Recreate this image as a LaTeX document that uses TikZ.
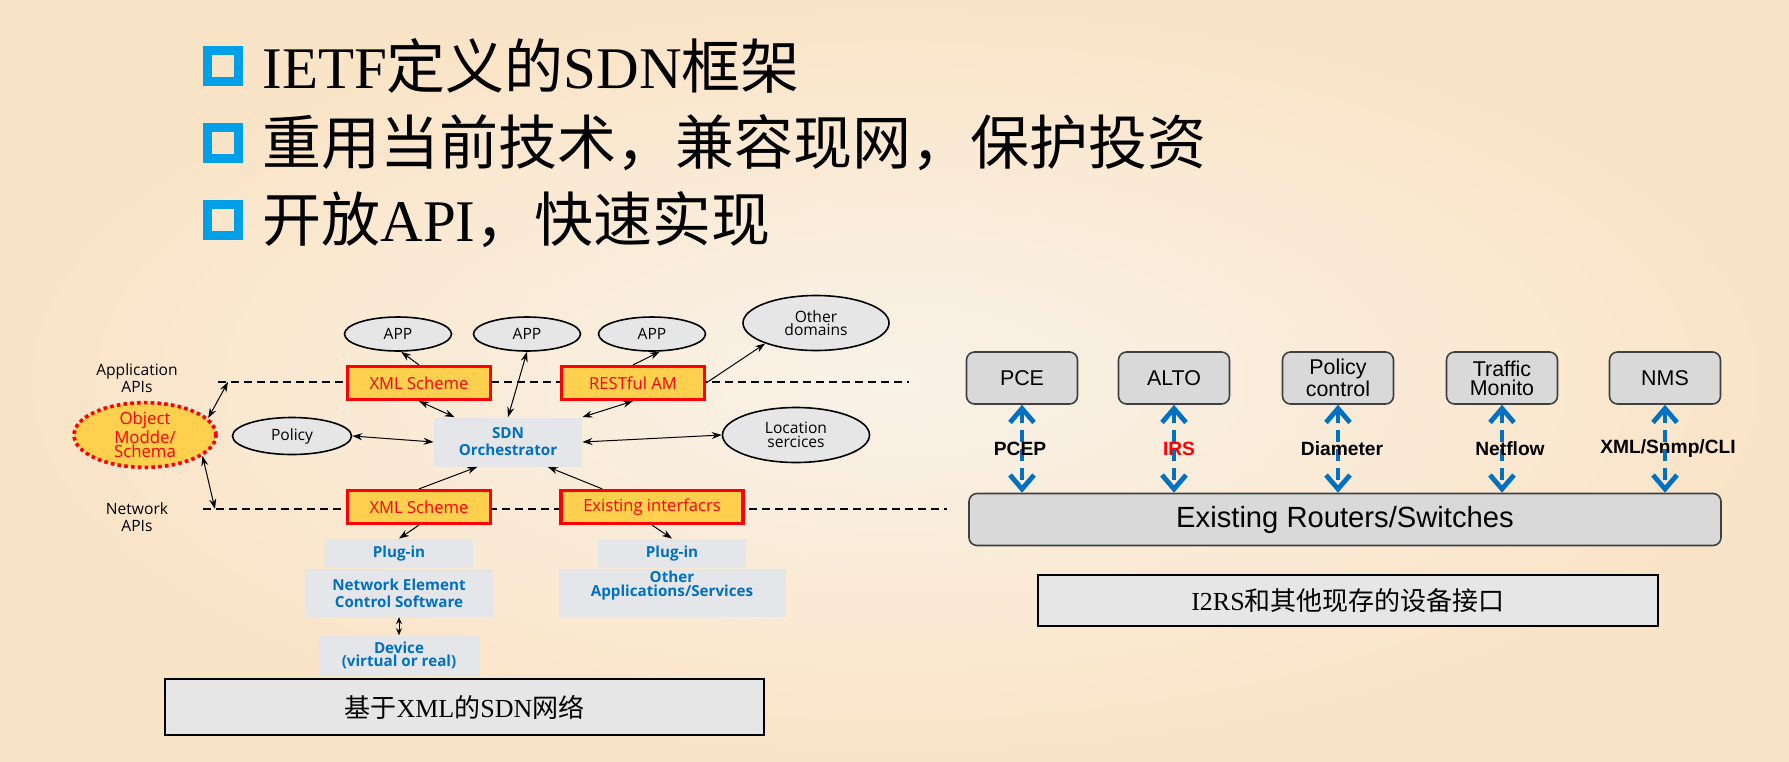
\documentclass[tikz,border=0pt]{standalone}
\usepackage{fontspec}
\setmainfont{Liberation Serif}
\setsansfont{Liberation Sans}
\newfontfamily\cjk{Noto Sans CJK SC}
\newfontfamily\opensans{Open Sans}
\usetikzlibrary{shapes.geometric,arrows.meta,positioning}
\definecolor{bgpeach}{RGB}{250,228,199}
\definecolor{bglight}{RGB}{249,242,232}
\definecolor{bulletblue}{RGB}{0,160,233}
\definecolor{gold}{RGB}{255,208,77}
\definecolor{paleblue}{RGB}{0,112,192}
\definecolor{boxgray}{RGB}{230,230,230}
\definecolor{softgray}{RGB}{229,230,233}
\definecolor{routergray}{RGB}{217,217,217}
\definecolor{edgegray}{RGB}{64,64,64}
\begin{document}
\begin{tikzpicture}[x=0.5pt,y=-0.5pt,
	bullet/.style={draw=bulletblue, line width=4.5pt, minimum size=15.5pt, inner sep=0pt},
	headline/.style={inner sep=0pt, font=\fontsize{29.5pt}{30pt}\selectfont},
	appcloud/.style={ellipse, draw, line width=0.8pt, fill=boxgray, inner sep=0pt, align=center, font=\opensans\fontsize{7.8pt}{6.7pt}\selectfont},
	scheme/.style={draw=red, line width=1.6pt, fill=gold, text=red, minimum width=71.5pt, minimum height=16.5pt, inner sep=0pt, font=\opensans\fontsize{8.3pt}{9pt}\selectfont},
	softbox/.style={fill=softgray, text=paleblue, inner sep=0pt, align=center, font=\opensans\bfseries\fontsize{7.6pt}{8.5pt}\selectfont},
	apilabel/.style={align=center, inner sep=0pt, font=\opensans\fontsize{7.8pt}{8.5pt}\selectfont},
	sepline/.style={line width=1pt, dash pattern=on 4pt off 2.5pt},
	twoway/.style={line width=0.5pt, {Stealth[length=5pt,width=3.5pt]}-{Stealth[length=5pt,width=3.5pt]}},
	oneway/.style={line width=0.5pt, -{Stealth[length=5pt,width=3.5pt]}},
	tool/.style={rounded corners=4pt, draw=edgegray, line width=0.8pt, fill=routergray, minimum width=55.5pt, minimum height=26pt, inner sep=0pt, align=center, font=\sffamily\fontsize{10.7pt}{9.6pt}\selectfont},
	proto/.style={paleblue, line width=2.4pt, dash pattern=on 6pt off 3.5pt, {Straight Barb[length=7pt,width=12pt]}-{Straight Barb[length=7pt,width=12pt]}},
	protolabel/.style={inner sep=0pt, text=black, font=\sffamily\bfseries\fontsize{9.6pt}{10pt}\selectfont},
	caption/.style={draw=black, line width=1pt, fill=boxgray, inner sep=0pt}]
	\useasboundingbox (0,0) rectangle (1789,761);
	\shade[inner color=bglight, outer color=bgpeach] (0,0) rectangle (1789,761);

	\node (sq1) [bullet] at (223,66) {};
	\node (sq2) [bullet] at (223,143) {};
	\node (sq3) [bullet] at (223,220) {};
	\node (line1) [headline, right=9.5pt of sq1] {IETF{\cjk 定义的}SDN{\cjk 框架}};
	\node (line2) [headline, right=9.5pt of sq2] {{\cjk 重用当前技术，兼容现网，保护投资}};
	\node (line3) [headline, right=9.5pt of sq3] {{\cjk 开放}API{\cjk ，快速实现}};

	\coordinate (topL) at (218,382);
	\coordinate (topR) at (909,382);
	\coordinate (topA) at (228,382);
	\coordinate (botL) at (203,509);
	\coordinate (botR) at (947,509);
	\coordinate (botA) at (215,509);
	\draw[sepline] (topL) -- (topR);
	\draw[sepline] (botL) -- (botR);

	\node (appapis) [apilabel] at (137,378) {Application\\APIs};
	\node (netapis) [apilabel] at (137,517) {Network\\APIs};
	\node (object) [ellipse, draw=red, fill=gold, line width=1.8pt, dash pattern=on 1.8pt off 1.6pt, minimum width=71pt, minimum height=26pt, inner sep=0pt, text=red, align=center, font=\opensans\fontsize{8.4pt}{7pt}\selectfont] at (145,435) {Object\\Modde/\\Schema};

	\node (app1) [appcloud, minimum width=53.5pt, minimum height=17pt] at (398,334) {APP};
	\node (app2) [appcloud, minimum width=53.5pt, minimum height=17pt] at (527,334) {APP};
	\node (app3) [appcloud, minimum width=53.5pt, minimum height=17pt] at (652,334) {APP};
	\node (other) [appcloud, minimum width=73pt, minimum height=27.5pt] at (816,323) {Other\\domains};
	\node (policy) [appcloud, minimum width=59.5pt, minimum height=18.5pt] at (292,436) {Policy};
	\node (location) [appcloud, minimum width=73.5pt, minimum height=27.5pt] at (796,435) {Location\\sercices};

	\node (xmltop) [scheme] at (419,383) {XML Scheme};
	\node (rest) [scheme] at (633,383) {RESTful AM};
	\node (xmlbot) [scheme] at (419,507) {XML Scheme};
	\node (exist) [scheme, minimum width=91pt] at (652,507) {Existing interfacrs};
	\node (sdn) [softbox, minimum width=74pt, minimum height=24.5pt] at (508,442) {SDN\\Orchestrator};

	\node (pluginL) [softbox, minimum width=74pt, minimum height=14.5pt] at (399,553.5) {Plug-in};
	\node (neL) [softbox, minimum width=94pt, minimum height=24pt, below=0pt of pluginL] {Network Element\\Control Software};
	\node (device) [softbox, minimum width=80.5pt, minimum height=20pt, font=\opensans\bfseries\fontsize{7.6pt}{6.8pt}\selectfont, below=9pt of neL] {Device\\(virtual or real)};
	\node (pluginR) [softbox, minimum width=74pt, minimum height=14.5pt] at (672,553.5) {Plug-in};
	\node (otherapp) [softbox, minimum width=113.5pt, minimum height=24pt, font=\opensans\bfseries\fontsize{7.6pt}{6.8pt}\selectfont, below=0pt of pluginR] {Other\\Applications/Services\\[2pt]};

	\draw[twoway] (object.15) -- (topA);
	\draw[twoway] (object.-20) -- (botA);
	\draw[oneway] (xmltop.north) -- (app1.-80);
	\draw[twoway] (xmltop.south) -- (sdn.155);
	\draw[twoway] (app2.south) -- (sdn.north);
	\draw[oneway] (rest.north) -- (app3.-66);
	\draw[twoway] (rest.south) -- (sdn.north east);
	\draw[oneway] (rest.east) -- (other.-158);
	\draw[twoway] (policy.east) -- (sdn.west);
	\draw[twoway] (sdn.east) -- (location.west);
	\draw[oneway] (xmlbot.north) -- (sdn.-141);
	\draw[oneway] (exist.160) -- (sdn.-32);
	\draw[oneway] (xmlbot.south) -- (pluginL.north);
	\draw[oneway] (exist.south) -- (pluginR.north);
	\draw[line width=0.5pt, {Stealth[length=3.5pt,width=3pt]}-{Stealth[length=3.5pt,width=3pt]}] (neL.south) -- (device.north);

	\node (cap1) [caption, minimum width=299.5pt, minimum height=28pt, font=\fontsize{13pt}{13pt}\selectfont] at (464.5,707) {{\cjk 基于}XML{\cjk 的}SDN{\cjk 网络}};

	\node (pce) [tool] at (1022,378) {PCE};
	\node (alto) [tool] at (1174,378) {ALTO};
	\node (policyctl) [tool] at (1338,378) {Policy\\control};
	\node (traffic) [tool] at (1502,378) {Traffic\\Monito};
	\node (nms) [tool] at (1665,378) {NMS};
	\node (routers) [tool, minimum width=376pt, font=\sffamily\fontsize{14.6pt}{15pt}\selectfont] at (1345,519.5) {Existing Routers/Switches};

	\draw[proto] (pce.south) -- (pce.south |- routers.north) node[protolabel, midway, xshift=-1pt] {PCEP};
	\draw[proto] (alto.south) -- (alto.south |- routers.north) node[protolabel, midway, xshift=2.5pt, text=red] {IRS};
	\draw[proto] (policyctl.south) -- (policyctl.south |- routers.north) node[protolabel, midway, xshift=2pt] {Diameter};
	\draw[proto] (traffic.south) -- (traffic.south |- routers.north) node[protolabel, midway, xshift=4pt] {Netflow};
	\draw[proto] (nms.south) -- (nms.south |- routers.north) node[protolabel, midway, xshift=1.5pt] {XML/Snmp/CLI};

	\node (cap2) [caption, minimum width=310pt, minimum height=25.5pt, font=\fontsize{13pt}{13pt}\selectfont] at (1348,600.5) {I2RS{\cjk 和其他现存的设备接口}};
\end{tikzpicture}
\end{document}
